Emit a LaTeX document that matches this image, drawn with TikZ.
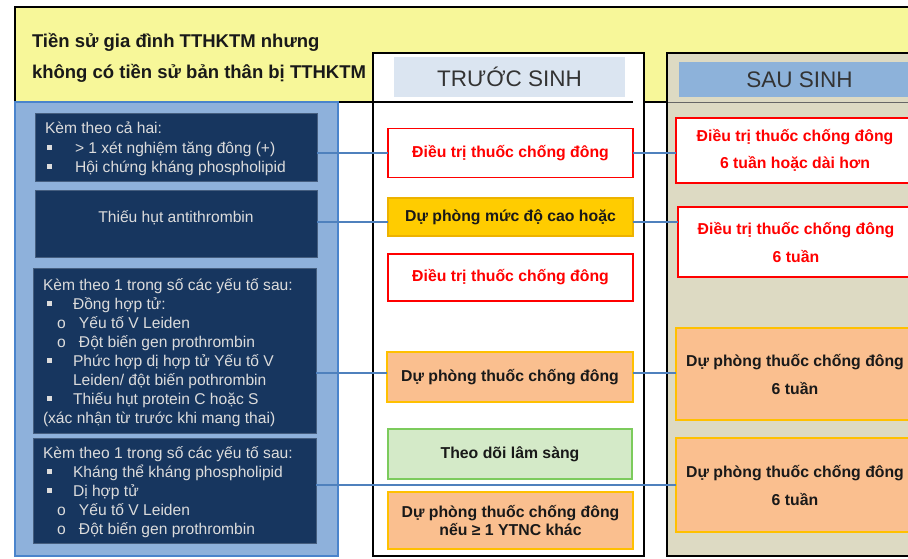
\documentclass[tikz,border=0pt]{standalone}
\usepackage{fontspec}
\setmainfont{Liberation Sans}
\definecolor{bandyellow}{HTML}{F7F799}
\definecolor{panelblue}{HTML}{8EB1DB}
\definecolor{panelline}{HTML}{4A84CC}
\definecolor{navy}{HTML}{17365F}
\definecolor{navytxt}{HTML}{DCDCDC}
\definecolor{preheadfill}{HTML}{DBE5F1}
\definecolor{postheadfill}{HTML}{8DB2DA}
\definecolor{postfill}{HTML}{DDDAC3}
\definecolor{headtxt}{HTML}{333333}
\definecolor{goldfill}{HTML}{FFCC00}
\definecolor{goldline}{HTML}{EDB200}
\definecolor{orangefill}{HTML}{FABF8F}
\definecolor{orangeline}{HTML}{FFC000}
\definecolor{greenfill}{HTML}{D4EAC8}
\definecolor{greenline}{HTML}{7CCB5C}
\definecolor{linkblue}{HTML}{4F81BD}
\newcommand\bulitm[2][26pt]{\makebox[#1][l]{\rule[3.5pt]{4.5pt}{4.5pt}}#2}
\newcommand\subitm[1]{\makebox[22pt][l]{o}#1}
\begin{document}
\begin{tikzpicture}[x=1pt,y=-1pt,
  every node/.style={inner sep=0pt, outer sep=0pt},
  frame/.style={draw, rectangle, inner sep=0pt, outer sep=0pt},
  navybox/.style={frame, draw=navy!80!white, fill=navy, line width=0.8pt},
  navytext/.style={text=navytxt, font=\fontsize{15.6}{19}\selectfont, anchor=base west},
  boxfont/.style={font=\bfseries\fontsize{15.8}{18}\selectfont, align=center},
  redbox/.style={frame, boxfont, draw=red, fill=white, line width=1.8pt, text=red},
  goldbox/.style={frame, boxfont, draw=goldline, fill=goldfill, line width=1.4pt, text=black!90},
  orangebox/.style={frame, boxfont, draw=orangeline, fill=orangefill, line width=1.8pt, text=black!90},
  greenbox/.style={frame, boxfont, draw=greenline, fill=greenfill, line width=1.8pt, text=black!90},
  link/.style={draw=linkblue, line width=2pt},
  hdrtext/.style={font=\bfseries\fontsize{18.5}{20}\selectfont, text=black!90, anchor=base west}
]
\useasboundingbox (0,0) rectangle (908,558);
\clip (0,0) rectangle (908,558);

% title band and the column frames
\node[frame, fill=bandyellow, line width=1.6pt, minimum width=930, minimum height=95] (band) at (480,54.5) {};
\node[frame, draw=panelline, fill=panelblue, line width=1.6pt, minimum width=323, minimum height=454] (panel) at (176.5,329) {};
\node[frame, fill=white, line width=1.8pt, minimum width=271, minimum height=503] (precol) at (508.5,304.5) {};
\node[frame, fill=postfill, line width=1.8pt, minimum width=263, minimum height=503] (postcol) at (798.5,304.5) {};

\node[hdrtext] (title1) at (32,47) {Tiền sử gia đình TTHKTM nhưng};
\node[hdrtext] (title2) at (32,78) {không có tiền sử bản thân bị TTHKTM};

% column headings
\node[frame, draw=none, fill=preheadfill, minimum width=231, minimum height=40,
  font=\fontsize{22.5}{23}\selectfont, text=headtxt] (prehead) at (509.5,77) {TRƯỚC SINH};
\node[frame, draw=none, fill=postheadfill, minimum width=241, minimum height=35,
  font=\fontsize{22.5}{23}\selectfont, text=headtxt] (posthead) at (799.5,79.5) {SAU SINH};
\draw[line width=1.5pt] (374,102) -- (633,102);
\draw[line width=1pt, draw=black!60] (668,102) -- (908,102);

% risk groups
\node[navybox, minimum width=282, minimum height=68] (n1) at (176,147) {};
\node[navybox, minimum width=282, minimum height=67] (n2) at (176,223.5) {};
\node[navybox, minimum width=283, minimum height=165] (n3) at (174.5,350.5) {};
\node[navybox, minimum width=283, minimum height=105] (n4) at (174.5,490.5) {};

\node[navytext] (n1a) at (45,133) {Kèm theo cả hai:};
\node[navytext] (n1b) at (47,153) {\bulitm[28pt]{> 1 xét nghiệm tăng đông (+)}};
\node[navytext] (n1c) at (47,172) {\bulitm[28pt]{Hội chứng kháng phospholipid}};

\node[navytext, anchor=center] (n2a) at (176,218) {Thiếu hụt antithrombin};

\node[navytext] (n3a) at (43,290) {Kèm theo 1 trong số các yếu tố sau:};
\node[navytext] (n3b) at (47,309) {\bulitm{Đồng hợp tử:}};
\node[navytext] (n3c) at (57,328) {\subitm{Yếu tố V Leiden}};
\node[navytext] (n3d) at (57,347) {\subitm{Đột biến gen prothrombin}};
\node[navytext] (n3e) at (47,366) {\bulitm{Phức hợp dị hợp tử Yếu tố V}};
\node[navytext] (n3f) at (73,385) {Leiden/ đột biến pothrombin};
\node[navytext] (n3g) at (47,404) {\bulitm{Thiếu hụt protein C hoặc S}};
\node[navytext] (n3h) at (43,423) {(xác nhận từ trước khi mang thai)};

\node[navytext] (n4a) at (43,458) {Kèm theo 1 trong số các yếu tố sau:};
\node[navytext] (n4b) at (47,477) {\bulitm{Kháng thể kháng phospholipid}};
\node[navytext] (n4c) at (47,496) {\bulitm{Dị hợp tử}};
\node[navytext] (n4d) at (57,515) {\subitm{Yếu tố V Leiden}};
\node[navytext] (n4e) at (57,534) {\subitm{Đột biến gen prothrombin}};

% antenatal management
\node[redbox, minimum width=245, minimum height=49] (m1) at (510.5,153) {Điều trị thuốc chống đông};
\node[goldbox, minimum width=245, minimum height=38] (m2) at (510.5,217) {Dự phòng mức độ cao hoặc};
\node[redbox, minimum width=245, minimum height=47] (m3) at (510.5,277.5) {Điều trị thuốc chống đông};
\node[orangebox, minimum width=246, minimum height=50] (m4) at (510,377) {Dự phòng thuốc chống đông};
\node[greenbox, minimum width=244, minimum height=50] (m5) at (510,454) {Theo dõi lâm sàng};
\node[orangebox, minimum width=245, minimum height=57] (m6) at (510.5,520.5) {Dự phòng thuốc chống đông\\nếu ≥ 1 YTNC khác};

% postnatal management
\node[redbox, font=\bfseries\fontsize{15.8}{27}\selectfont, minimum width=238, minimum height=65] (r1) at (795,150.5) {Điều trị thuốc chống đông\\6 tuần hoặc dài hơn};
\node[redbox, font=\bfseries\fontsize{15.8}{28}\selectfont, minimum width=236, minimum height=70] (r2) at (796,242) {Điều trị thuốc chống đông\\6 tuần};
\node[orangebox, font=\bfseries\fontsize{15.8}{28}\selectfont, minimum width=238, minimum height=92] (r3) at (795,374) {Dự phòng thuốc chống đông\\6 tuần};
\node[orangebox, font=\bfseries\fontsize{15.8}{28}\selectfont, minimum width=238, minimum height=94] (r4) at (795,485) {Dự phòng thuốc chống đông\\6 tuần};

% links between groups and management
\coordinate (n2r) at ([yshift=1.5pt]n2.east);
\coordinate (m4l) at ([yshift=4pt]m4.west);
\coordinate (m4r) at ([yshift=4pt]m4.east);
\draw[link] (n1.east |- m1.west) -- (m1.west);
\draw[link] (m1.east) -- (m1.east -| r1.west);
\draw[link] (n2r) -- (n2r -| m2.west);
\draw[link] (m2.east |- n2r) -- (r2.west |- n2r);
\draw[link] (n3.east |- m4l) -- (m4l);
\draw[link] (m4r) -- (m4r -| r3.west);
\draw[link] (n4.east |- r4.west) -- (r4.west);
\end{tikzpicture}
\end{document}
